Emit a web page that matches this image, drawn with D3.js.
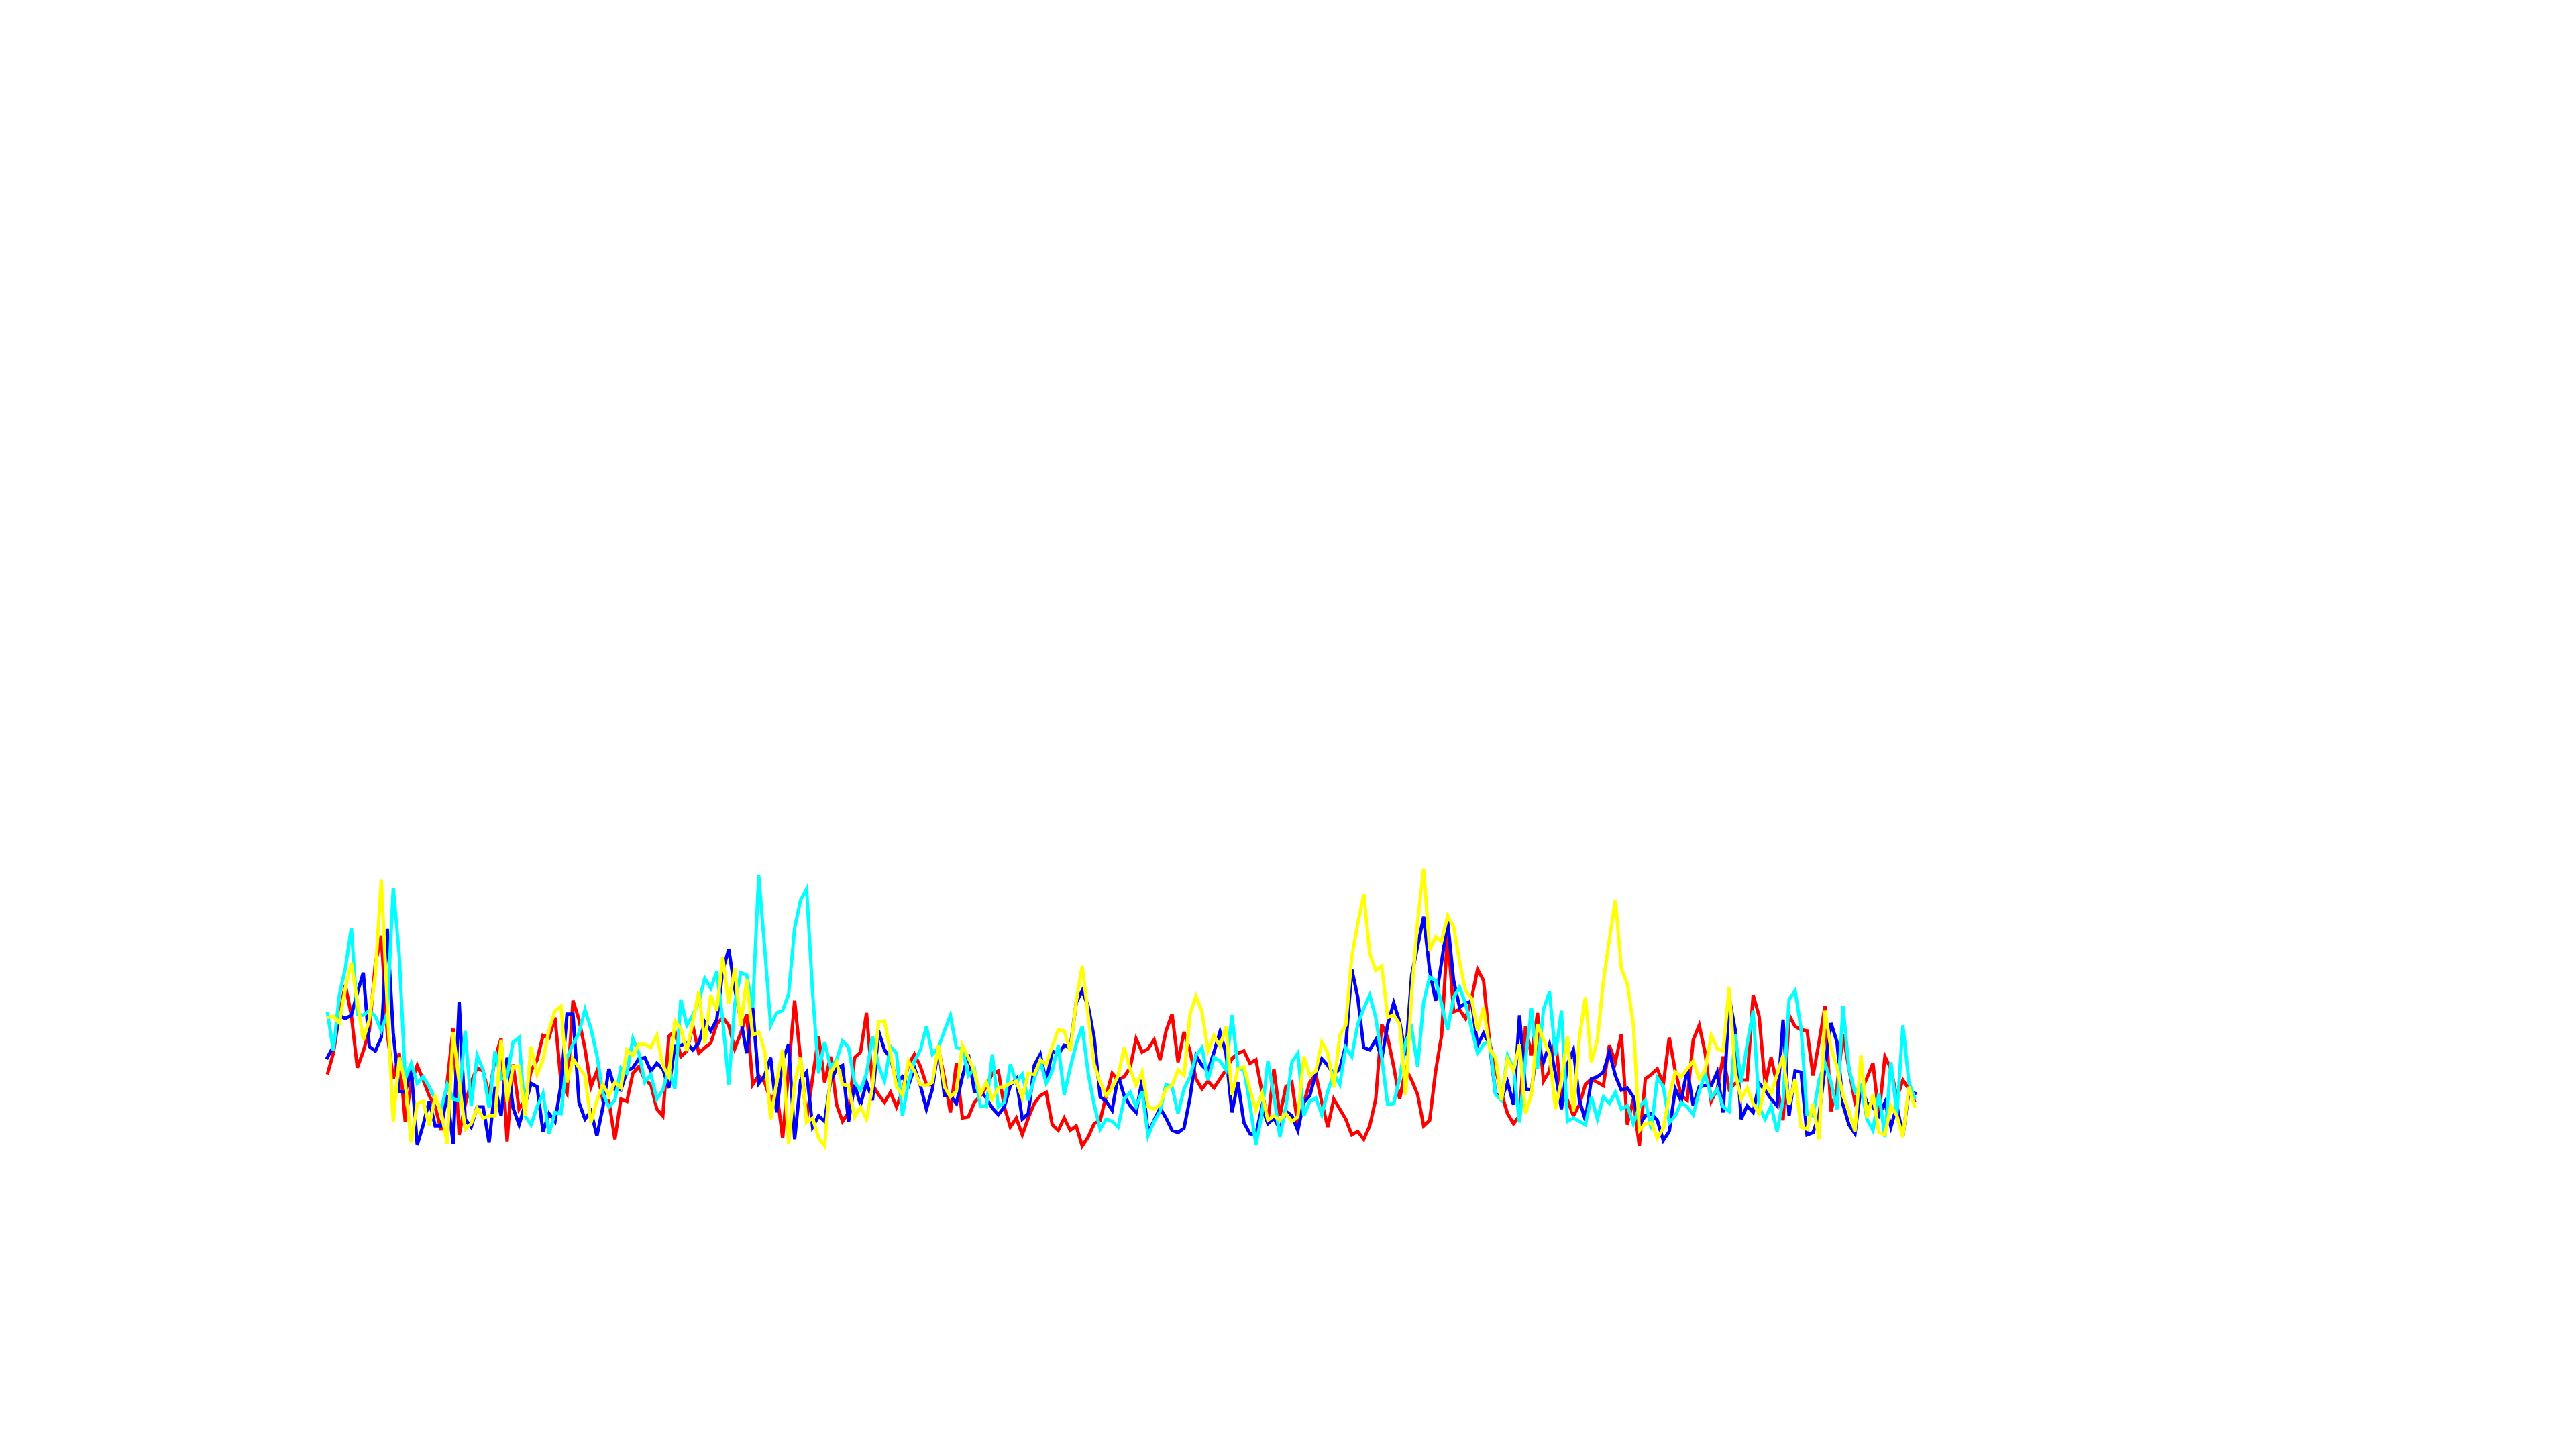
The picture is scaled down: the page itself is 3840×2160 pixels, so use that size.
<!DOCTYPE html>
<html>
<head>
<meta charset="utf-8">
<script src="https://cdn.jsdelivr.net/npm/d3@7"></script>
<style>
  html, body { margin: 0; padding: 0; background: #ffffff; }
  svg { display: block; }
</style>
</head>
<body>
<div id="chart"></div>
<script>
// Series values (arbitrary units), one per sample index 0..265
const redValues = [
  35.5,45,62,75.5,62,38.5,46,55,85,97.5,
  54,33.5,45,14.5,32,39.5,33,26,21,10.5,
  32,56,8.5,22,32,38.5,37,26,43,51.5,
  5.5,40,20,24,37,42,53,52,61,32,
  27,68.5,60,47,30,37,24,23.5,6.5,24.5,
  23.5,36,39,33,31,20,17,52.5,55,43.5,
  46,57.5,45,47.5,49.5,58,61,57.5,47,54,
  62.5,31,35,32,24,28,7,38,68.5,42,
  15.5,34,52.5,32,43.5,22,14.5,18.5,43,45.5,
  63,31,26.5,23,27.5,21,28,40,44.5,39,
  31,31,47,34,18.5,40.5,16,16.5,23,26,
  30,36,37,21,12,16,8.5,16,22.5,26,
  27.5,13,10.5,16,10.5,12.5,3.5,7.5,13.5,15,
  26,36,33,34.5,38.5,51.5,45.5,47,51,42,
  55,62.5,41,54.5,46,33.5,29,32.5,29.5,33.5,
  37.5,42.5,45,46,40.5,42,28,14.5,38,17,
  30,32,13,23,32,35.5,23,12,24.5,20,
  15.5,8.5,10,6.5,12.5,24.5,58,52,39,24.5,
  38,33,26.5,12.5,15,37,53,99,63.5,64.5,
  60.5,69.5,82.5,77.5,50,38,27,18,13.5,17,
  57,44,63,32.5,37,52,24,24,17,22,
  31,33.5,32,30.5,48.5,41,53.5,13,24.5,3.5,
  33.5,35.5,38,31,52,37,26,24,51,57.5,
  45,23.5,29,43.5,29,31.5,33,33,71,61.5,
  31,43,31,15,62,57,55.5,55,35,50,
  66,19,30,53.5,38,23,28,34,40.5,17,
  43.5,38,25,33,29,23
];
const blueValues = [
  43,48,62,60.5,62,72,81,48,46,52,
  100.5,54,28,27.5,37.5,4,13,23.5,12.5,12.5,
  26,4.5,68,15.5,12,21,21,5,30,17,
  43,20.5,13,22,31.5,30,10,18,14.5,31,
  62.5,62.5,23,15.5,19,8,21,38,29,28.5,
  37,38.5,42.5,43,37,40.5,38,29.5,48,48.5,
  49.5,46.5,49.5,59,55,60,82,91.5,74,60,
  45,65.5,31.5,35,43,18.5,42,49,6.5,33,
  36.5,12,17,14.5,32.5,38,39.5,14.5,31,22,
  32,24,55,46.5,43,32,34.5,30.5,38.5,30.5,
  20,29,48,26,26,22.5,34.5,44.5,28,28,
  25,20.5,17.5,21,30.5,33.5,15.5,18,39.5,44.5,
  32,46,44.5,48.5,47.5,67.5,73,66,52,25.5,
  23.5,19.5,35,26,21.5,18.5,33,9.5,15,20.5,
  16,10.5,9.5,11.5,25,44,39.5,37,45.5,54.5,
  45,18.5,32,14,9,8.5,21,13.5,16,11,
  19,17,10.5,23,26,36,42.5,39.5,35.5,38,
  48.5,82.5,70,47.5,46.5,51,42.5,58,67.5,59,
  44,80,93,106,82,68.5,86,104,77.5,65.5,
  67.5,68,48.5,54,49,27,24.5,32,22,62,
  29,28.5,49,41,49,36,20,40,46.5,24,
  15,33.5,34.5,36.5,45.5,35,28.5,29.5,25.5,13,
  17,18,15,6,10,29,23.5,38,21.5,30,
  30.5,30.5,36.5,18.5,70,55.5,15.5,21.5,18.5,31.5,
  28.5,24.5,21.5,60,17,37,36.5,8.5,9.5,17,
  39,58.5,50,22,13,9,30,23,21,17,
  23,12,21.5,8,28,27
];
const cyanValues = [
  63.5,46,71,83,101,62.5,62,64,61.5,55,
  63,119,89,33.5,40.5,31.5,34.5,30,24.5,20,
  31,24.5,24,55,21.5,44,37.5,20.5,46,33.5,
  34.5,50,52,17,13,21,27,9,18.5,18,
  43,49,54,64.5,56,44,27,21,24,38.5,
  36,51.5,45,32,35.5,24.5,28.5,38,29,69,
  57.5,62,68,78.5,74,81.5,60,31,67,81,
  80,65.5,124.5,92,57.5,63,64,71.5,101,113.5,
  118.5,72,36,50,39,42,50.5,47.5,32,28.5,
  36,52.5,39.5,32.5,48,45,17,32,41.5,46.5,
  57,44.5,47.5,55,62,47.5,47,35,38,21.5,
  21,44.5,21,23,40,32,35.5,24,33.5,41.5,
  31.5,37,48.5,26.5,38.5,49,57,36,22,11,
  15.5,14.5,12,24.5,27.5,21,28,8,14.5,19,
  31,30,18,29,34.5,44,47.5,33,43,41.5,
  37.5,62,38.5,37.5,22,4,18,41.5,26,7.5,
  21,41,45,17,23.5,25,17.5,28,36,31,
  47.5,43.5,58,65,71,61,43,22,22.5,34,
  50,56,39,68,79,77.5,67,55.5,70,74.5,
  67,56,45,49,50.5,26.5,24,44,38,14,
  42,65,38,64.5,72.5,44,64,14.5,16,14.5,
  13,25.5,15.5,25.5,22.5,27.5,20,21.5,13.5,21,
  24,11,34,30,14,17,23,21,17.5,28,
  36,25,29,21,19,53.5,32,49,64,21,
  15.5,21.5,10,24,69,73,56,17.5,17,33,
  40.5,32,20,66,38,27.5,30.5,15.5,10.5,27,
  7.5,41,17.5,57.5,32,24.5
];
const yellowValues = [
  61,61.5,58.5,74,85.5,68,51,60,80,122.5,
  67,14.5,43,32,5,22.5,23.5,12.5,25.5,19,
  4.5,54.5,32,11,13.5,20.5,16,17,17,51,
  23.5,39,39,17,48,35.5,42,55.5,64,66,
  32,42.5,38.5,35,14,24,31,26,32,29.5,
  46.5,44,49,49,47.5,53,39.5,34.5,59.5,56,
  46,59,72.5,49.5,71,64,88,67,83,57,
  78,53,54.5,46,15.5,32,46.5,4.5,32,43,
  14,16,7,3.5,36,41,31,30.5,16.5,21,
  15.5,30,59,59.5,45,30,26.5,41.5,37,31,
  30.5,32,48.5,30,25.5,28,48.5,43,37,26.5,
  32,24.5,29.5,30,31.5,32.5,25,36,35.5,42,
  40,48,55.5,55,46,68,84,62,40,32,
  26,29.5,35,47.5,38,30.5,36.5,21,20,22,
  29,30.5,37.5,35,62.5,70.5,63.5,46,53,48,
  57,26.5,38,39,29,19.5,27,15,17,15,
  18,14.5,16.5,43.5,35,37,50,45,30,53,
  57.5,88,103,116,89.5,82,84,61,62,58,
  26.5,72,104,127.5,91,97,95,106.5,101.5,86,
  73,69.5,55,65.5,47,43,24,42.5,37,49,
  18,26.5,58,51,45,20,33,52.5,19,52,
  70,41,51,77,96,113.5,83,76,58,10.5,
  13.5,14,7,11.5,26,36.5,34.5,38,41.5,33.5,
  37.5,53,47,46,74.5,36.5,24.5,29.5,22.5,18,
  31.5,27,35.5,44,22,33.5,12,11,22.5,6.5,
  64,47,39,26,19,10,44,16,26.5,9.5,
  8.5,21.5,17,7.5,30,20.5
];

const seriesNames = ["red", "blue", "cyan", "yellow"];
const seriesColors = ["#ff0000", "#0000ff", "#00ffff", "#ffff00"];
const seriesData = [redValues, blueValues, cyanValues, yellowValues];

const W = 3840, H = 2160;
const svg = d3.select("#chart").append("svg")
  .attr("width", W).attr("height", H)
  .style("background", "#ffffff");

const n = redValues.length;
const x = d3.scaleLinear().domain([0, n - 1]).range([488, 2854.5]);
const y = d3.scaleLinear().domain([0, 132]).range([1720, 1280]);

const line = d3.line()
  .x((d, i) => x(i))
  .y(d => y(d));

svg.append("g").selectAll("path")
  .data(seriesData)
  .join("path")
  .attr("d", d => line(d))
  .attr("fill", "none")
  .attr("stroke", (d, i) => seriesColors[i])
  .attr("stroke-width", 5)
  .attr("stroke-linejoin", "miter")
  .attr("stroke-linecap", (d, i) => seriesNames[i] === "blue" ? "square" : "butt");
</script>
</body>
</html>
